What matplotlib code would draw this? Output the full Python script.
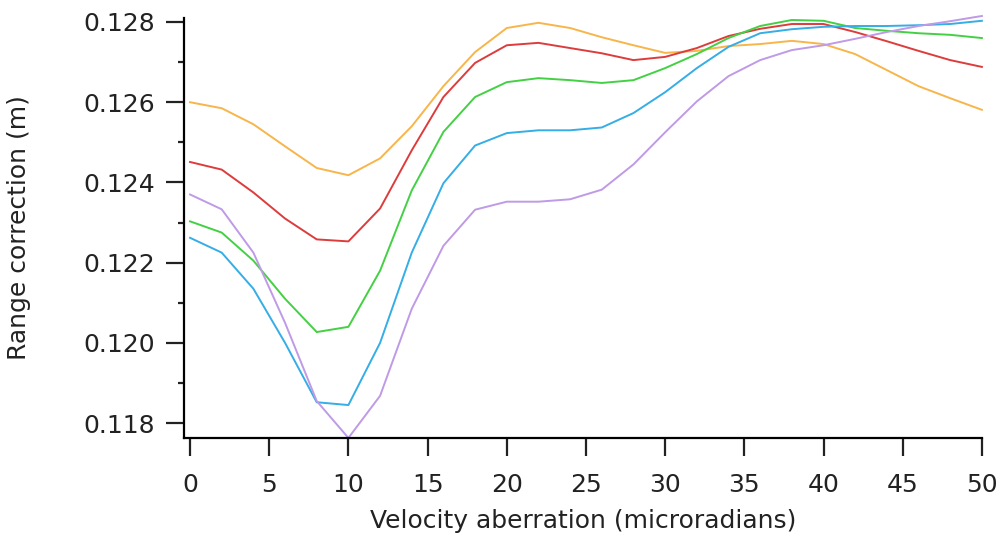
import numpy as np
import matplotlib
matplotlib.use('Agg')
import matplotlib.pyplot as plt
from matplotlib.ticker import MultipleLocator, FormatStrFormatter

aberration = [0, 2, 4, 6, 8, 10, 12, 14, 16, 18, 20, 22, 24, 26, 28, 30, 32, 34, 36, 38, 40, 42, 44, 46, 48, 50]

orange = [0.12600, 0.12585, 0.12545, 0.12490, 0.12436, 0.12418, 0.12460, 0.12540, 0.12640, 0.12725,
          0.12785, 0.12798, 0.12785, 0.12762, 0.12742, 0.12723, 0.12728, 0.12740, 0.12745, 0.12753,
          0.12745, 0.12720, 0.12680, 0.12640, 0.12610, 0.12581]
red = [0.12451, 0.12432, 0.12375, 0.12310, 0.12258, 0.12253, 0.12335, 0.12480, 0.12613, 0.12698,
       0.12742, 0.12748, 0.12735, 0.12722, 0.12705, 0.12713, 0.12735, 0.12765, 0.12783, 0.12795,
       0.12795, 0.12775, 0.12752, 0.12728, 0.12705, 0.12688]
green = [0.12303, 0.12275, 0.12205, 0.12110, 0.12027, 0.12040, 0.12180, 0.12380, 0.12526, 0.12613,
         0.12650, 0.12660, 0.12655, 0.12648, 0.12655, 0.12685, 0.12720, 0.12760, 0.12790, 0.12805,
         0.12803, 0.12785, 0.12778, 0.12772, 0.12768, 0.12760]
blue = [0.12262, 0.12225, 0.12135, 0.12000, 0.11852, 0.11845, 0.12000, 0.12225, 0.12398, 0.12492,
        0.12523, 0.12530, 0.12530, 0.12537, 0.12573, 0.12625, 0.12685, 0.12738, 0.12772, 0.12782,
        0.12788, 0.12790, 0.12790, 0.12792, 0.12795, 0.12803]
purple = [0.12370, 0.12333, 0.12225, 0.12050, 0.11855, 0.11763, 0.11868, 0.12085, 0.12242, 0.12332,
          0.12352, 0.12352, 0.12358, 0.12382, 0.12445, 0.12525, 0.12602, 0.12665, 0.12705, 0.12730,
          0.12742, 0.12758, 0.12775, 0.12790, 0.12802, 0.12815]

series = [(orange, '#f7b54a'), (red, '#dd3c3c'), (green, '#44d044'), (blue, '#35ade6'), (purple, '#bf9ae6')]

plt.rcParams['font.family'] = ['DejaVu Sans']

fig = plt.figure(figsize=(10.05, 5.4), dpi=100)
ax = fig.add_axes([0.1831, 0.189, 0.7939, 0.7777])

for vals, col in series:
    ax.plot(aberration, vals, color=col, lw=1.4, clip_on=False)

ax.set_xlim(-0.38, 50)
ax.set_ylim(0.11763, 0.12810)
ax.set_xticks(range(0, 51, 5))
ax.set_yticks([0.118, 0.120, 0.122, 0.124, 0.126, 0.128])
ax.yaxis.set_minor_locator(MultipleLocator(0.001))
ax.yaxis.set_major_formatter(FormatStrFormatter('%.3f'))

for s in ['top', 'right']:
    ax.spines[s].set_visible(False)
for s in ['left', 'bottom']:
    ax.spines[s].set_linewidth(1.6)

ax.tick_params(which='major', direction='out', length=13, width=1.6, labelsize=18, colors='#222222')
ax.tick_params(axis='y', which='major', pad=8)
ax.tick_params(axis='x', which='major', pad=12)
ax.tick_params(which='minor', direction='out', length=4.5, width=1.6, colors='#222222')

ax.set_xlabel('Velocity aberration (microradians)', fontsize=18, color='#222222', labelpad=9)
ax.set_ylabel('Range correction (m)', fontsize=18, color='#222222')
ax.yaxis.set_label_coords(-0.192, 0.5)

fig.savefig('out.png', dpi=100)
